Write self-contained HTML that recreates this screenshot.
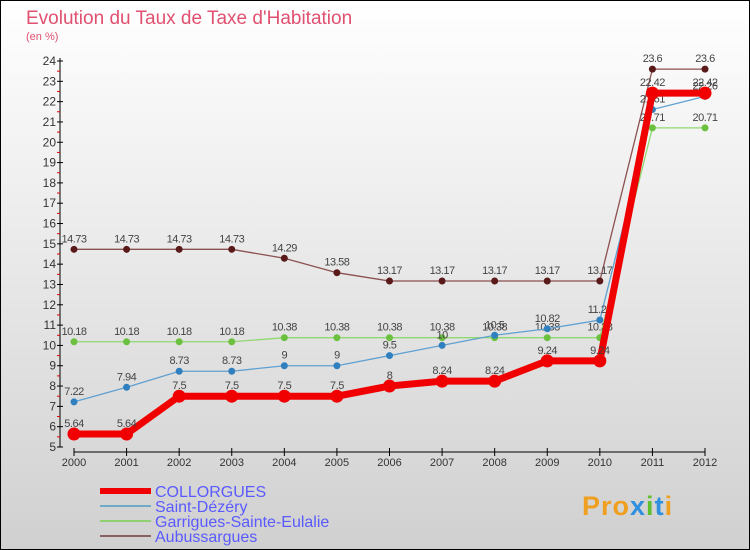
<!DOCTYPE html>
<html><head><meta charset="utf-8"><style>
body{margin:0;width:750px;height:550px;overflow:hidden;font-family:"Liberation Sans",sans-serif}
svg{display:block}
</style></head><body>
<svg width="750" height="550">
<defs><linearGradient id="bg" x1="0" y1="0" x2="0" y2="1"><stop offset="0" stop-color="#ffffff"/><stop offset="1" stop-color="#d0d0d0"/></linearGradient></defs>
<rect x="0" y="0" width="750" height="550" fill="url(#bg)"/>
<rect x="0.5" y="0.5" width="749" height="549" fill="none" stroke="#000"/>
<text x="26" y="24" font-size="19" fill="#e05070">Evolution du Taux de Taxe d'Habitation</text>
<text x="26" y="40" font-size="11" fill="#e05070">(en %)</text>
<g id="axes"></g>
<g id="series"></g>
<g id="legend"></g>
<g>
<text x="582" y="515" font-size="27" font-weight="bold" fill="#f0a020" letter-spacing="1">Pro<tspan fill="#3090e0">x</tspan><tspan fill="#60c030">i</tspan><tspan fill="#3090e0">t</tspan><tspan fill="#f0a020">i</tspan></text>
</g>
</svg>
<script>
const years=[2000,2001,2002,2003,2004,2005,2006,2007,2008,2009,2010,2011,2012];
const collorgues=[5.64,5.64,7.5,7.5,7.5,7.5,8,8.24,8.24,9.24,9.24,22.42,22.42];
const saintDezery=[7.22,7.94,8.73,8.73,9,9,9.5,10,10.5,10.82,11.25,21.61,22.26];
const garrigues=[10.18,10.18,10.18,10.18,10.38,10.38,10.38,10.38,10.38,10.38,10.38,20.71,20.71];
const aubussargues=[14.73,14.73,14.73,14.73,14.29,13.58,13.17,13.17,13.17,13.17,13.17,23.6,23.6];
const yTicks=[5,6,7,8,9,10,11,12,13,14,15,16,17,18,19,20,21,22,23,24];
const seriesNames=["COLLORGUES","Saint-Dézéry","Garrigues-Sainte-Eulalie","Aubussargues"];
const NS="http://www.w3.org/2000/svg";
function X(i){return 74+i*(705-74)/(years.length-1);}
function Y(v){return 447-(v-5)*(447-61)/19;}
function mk(tag,attrs,parent,txt){const e=document.createElementNS(NS,tag);for(const k in attrs)e.setAttribute(k,attrs[k]);if(txt!==undefined)e.textContent=txt;parent.appendChild(e);return e;}
const ax=document.getElementById('axes');
let l=mk('line',{x1:60,y1:Y(24)-3,x2:60,y2:Y(5),stroke:'#000'},ax);


yTicks.forEach(v=>{
 mk('line',{x1:57,x2:63,y1:Y(v),y2:Y(v),stroke:'#000'},ax);
 if(v<24){mk('line',{x1:57,x2:60,y1:Y(v+0.5),y2:Y(v+0.5),stroke:'#e00000'},ax);}
 const t=mk('text',{x:56,y:Y(v)+4,'font-size':12,'text-anchor':'end',fill:'#333'},ax,String(v));
 
 
});
l=mk('line',{x1:X(0),y1:452,x2:X(12),y2:452,stroke:'#000'},ax);


years.forEach((y,i)=>{
 mk('line',{x1:X(i),x2:X(i),y1:448,y2:456,stroke:'#000'},ax);
 const t=mk('text',{x:X(i),y:466,'font-size':11,'text-anchor':'middle',fill:'#333'},ax,String(y));
 
 
});
const sg=document.getElementById('series');
const cfg=[
 {d:aubussargues,c:'#8b5050',dot:'#5a1a1a',w:1.3,r:3.5,name:'series-aubussargues'},
 {d:garrigues,c:'#90d870',dot:'#6cc040',w:1.3,r:3.5,name:'series-garrigues'},
 {d:saintDezery,c:'#60a0d0',dot:'#3080c0',w:1.3,r:3.5,name:'series-saint-dezery'},
 {d:collorgues,c:'#f00000',dot:'#f00000',w:7,r:6.5,name:'series-collorgues'}];
cfg.forEach(s=>{
 const g=mk('g',{},sg);
 
 
 const p=mk('polyline',{points:s.d.map((v,i)=>X(i)+','+Y(v)).join(' '),fill:'none',stroke:s.c,'stroke-width':s.w},g);
 
 
 s.d.forEach((v,i)=>{
  const c=mk('circle',{cx:X(i),cy:Y(v),r:s.r,fill:s.dot},g);
  
  
  const t=mk('text',{x:X(i),y:Y(v)-7,'font-size':11,'text-anchor':'middle',fill:'#444','letter-spacing':'-0.5'},g,String(v));
  
  
 });
});
const lg=document.getElementById('legend');
const lc=[['#f00000',6],['#70a8c8',2],['#90d070',2],['#8b6060',2]];
seriesNames.forEach((n,i)=>{
 const y=491+i*15;
 const ln=mk('line',{x1:100,x2:151,y1:y,y2:y,stroke:lc[i][0],'stroke-width':lc[i][1]},lg);
 
 
 const t=mk('text',{x:155,y:y+6,'font-size':16,fill:'#5a5aff'},lg,n);
 
 
});
</script>
</body></html>
